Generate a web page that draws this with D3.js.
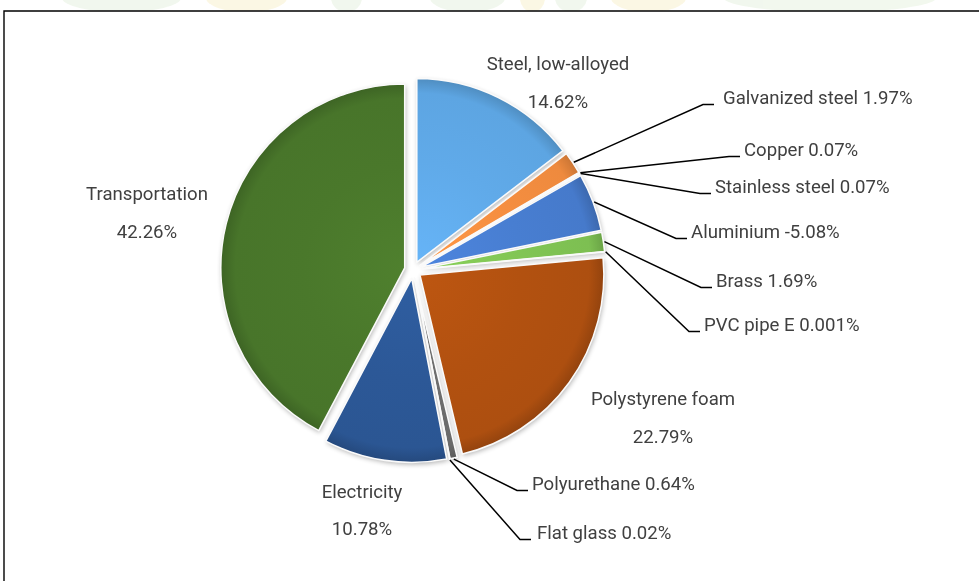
<!DOCTYPE html>
<html><head><meta charset="utf-8">
<script src="https://cdn.jsdelivr.net/npm/d3@7"></script>
<style>body{margin:0;background:#fff}svg{display:block}</style>
</head><body>
<svg id="c" width="979" height="581"></svg>
<script>
// ---- data ----
const categories = ["Steel, low-alloyed","Galvanized steel","Copper","Stainless steel","Aluminium","Brass","PVC pipe E","Polystyrene foam","Polyurethane","Flat glass","Electricity","Transportation"];
const values = [14.62, 1.97, 0.07, 0.07, -5.08, 1.69, 0.001, 22.79, 0.64, 0.02, 10.78, 42.26];
const valueLabels = ["14.62%","1.97%","0.07%","0.07%","-5.08%","1.69%","0.001%","22.79%","0.64%","0.02%","10.78%","42.26%"];

// ---- styles ----
const colors = ["#5da5e2","#ee8a3e","#a5a5a5","#ffc000","#467acb","#7dbf52","#255e91","#ad4f10","#6a6a6a","#997300","#2b5693","#48752a"];
// label layout (pixel positions): centered two-line labels, or one-line labels with leader lines
const labelLayout = [
  {type:"center", x:558, y1:64, y2:102},
  {type:"leader", x:723, y:98, gap:9},
  {type:"leader", x:744, y:150},
  {type:"leader", x:715, y:187},
  {type:"leader", x:691, y:232},
  {type:"leader", x:716, y:281},
  {type:"leader", x:704, y:325},
  {type:"center", x:663, y1:399, y2:437},
  {type:"leader", x:532, y:484},
  {type:"leader", x:537, y:533, gap:6},
  {type:"center", x:362, y1:492, y2:529},
  {type:"center", x:147, y1:194, y2:232}
];
const W = 979, H = 581;
const cx = 413, cy = 270, R = 184, explode = 8.5;

const svg = d3.select("#c");
const defs = svg.append("defs");

// faint background watermark above the frame
const wm = svg.append("g").attr("opacity", 0.28);
[[62,181,"#cfe5c3"],[206,287,"#f3e3a0"],[331,362,"#cfe5c3"],[430,505,"#cfe5c3"],[520,545,"#f3e3a0"],[555,587,"#cfe5c3"],[611,686,"#f3e3a0"],[724,936,"#cfe5c3"]]
  .forEach(([a,b,c]) => wm.append("ellipse").attr("cx",(a+b)/2).attr("cy",-2).attr("rx",(b-a)/2).attr("ry",14).attr("fill",c));
svg.append("rect").attr("x",0).attr("y",11).attr("width",W).attr("height",H).attr("fill","#fff");

// frame
svg.append("path").attr("d", d3.line()([[4,H+2],[4,11],[W+2,11]]))
  .attr("fill","none").attr("stroke","#000").attr("stroke-width",1.4);

// blur filter for shadows
const f = defs.append("filter").attr("id","bl").attr("x","-20%").attr("y","-20%").attr("width","140%").attr("height","140%");
f.append("feGaussianBlur").attr("stdDeviation",2.4);

const pie = d3.pie().sort(null).value(d => Math.abs(d));
const arcs = pie(values);
const arc = d3.arc().innerRadius(0).outerRadius(R);
const offs = arcs.map(a => {
  const mid = (a.startAngle + a.endAngle) / 2;
  return [cx + explode * Math.sin(mid), cy - explode * Math.cos(mid), mid];
});

// shadows
const gSh = svg.append("g").attr("filter","url(#bl)").attr("opacity",0.3);
arcs.forEach((a, i) => {
  const [ox, oy] = offs[i];
  gSh.append("path").attr("transform", `translate(${ox + 1},${oy + 2})`).attr("d", arc(a)).attr("fill","#000");
});

// slices (gradient in each slice's local coordinates, centred on its vertex)
arcs.forEach((a, i) => {
  const [ox, oy] = offs[i];
  const base = d3.color(colors[i]);
  const gid = "g" + i;
  const rg = defs.append("radialGradient").attr("id", gid).attr("gradientUnits","userSpaceOnUse")
    .attr("cx", 0).attr("cy", 0).attr("r", R);
  rg.append("stop").attr("offset","0%").attr("stop-color", base.brighter(0.25));
  rg.append("stop").attr("offset","55%").attr("stop-color", base.brighter(0.08));
  rg.append("stop").attr("offset","92%").attr("stop-color", base);
  rg.append("stop").attr("offset","100%").attr("stop-color", base.darker(0.45));
  svg.append("path").attr("transform", `translate(${ox},${oy})`).attr("d", arc(a))
    .attr("fill", `url(#${gid})`).attr("stroke","#fafafa").attr("stroke-width",1.6).attr("stroke-linejoin","round");
});

// labels
const font = "Roboto, 'Open Sans', sans-serif";
const txtCol = "#404040";
const gL = svg.append("g").attr("font-family", font).attr("font-size", 18.6).attr("fill", txtCol);
arcs.forEach((a, i) => {
  const L = labelLayout[i];
  if (L.type === "center") {
    gL.append("text").attr("x", L.x).attr("y", L.y1).attr("text-anchor","middle").attr("dominant-baseline","central").text(categories[i]);
    gL.append("text").attr("x", L.x).attr("y", L.y2).attr("text-anchor","middle").attr("dominant-baseline","central").text(valueLabels[i]);
  } else {
    const [ox, oy, mid] = offs[i];
    const p0 = [ox + (R + 1) * Math.sin(mid), oy - (R + 1) * Math.cos(mid)];
    const ey = L.y + 6.5, gap = L.gap || 4;
    const pts = [p0, [L.x - gap - 11, ey], [L.x - gap, ey]];
    svg.append("path").attr("d", d3.line()(pts)).attr("fill","none").attr("stroke","#000").attr("stroke-width",1.5);
    gL.append("text").attr("x", L.x).attr("y", L.y).attr("dominant-baseline","central")
      .text(categories[i] + " " + valueLabels[i]);
  }
});
</script>
</body></html>
